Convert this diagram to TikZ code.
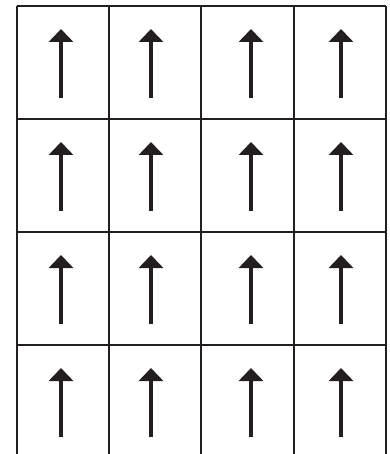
\documentclass[tikz,border=0pt]{standalone}
\usetikzlibrary{arrows.meta}
\definecolor{ink}{HTML}{231F20}
\begin{document}
\begin{tikzpicture}[x=1pt,y=-1pt,
  gridline/.style={draw=ink,line width=1.6pt},
  spin/.style={draw=ink,line width=3.2pt,-{Triangle[length=13pt,width=24pt]}}]
\useasboundingbox (0,0) rectangle (389,454);
\foreach \x in {17,109,201,294,386} \draw[gridline] (\x,6) -- (\x,454);
\foreach \y in {6,119,232,345} \draw[gridline] (17,\y) -- (386,\y);
\foreach \x in {61,151,251,341}
  \foreach \y in {6,119,232,345}
    \draw[spin] (\x,\y+92) -- (\x,\y+23);
\end{tikzpicture}
\end{document}
